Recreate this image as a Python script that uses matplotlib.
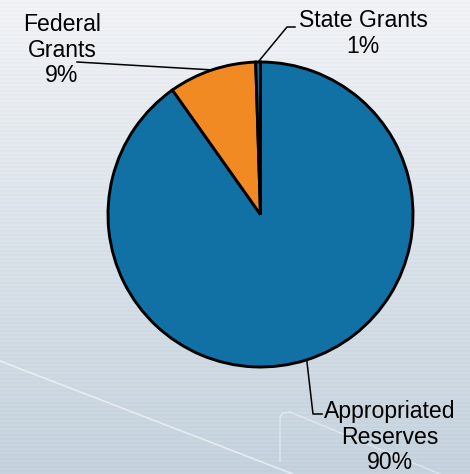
import matplotlib
matplotlib.use("Agg")
import matplotlib.pyplot as plt
import numpy as np

# slice values (percent of total)
categories = ["Appropriated Reserves", "Federal Grants", "State Grants"]
values = [90.2, 9.3, 0.5]
labels = ["Appropriated\nReserves\n90%", "Federal\nGrants\n9%", "State Grants\n1%"]
colors = ["#1271a4", "#f18a22", "#1271a4"]

W, H = 470, 474
CX, CY, R = 260.5, 214.5, 152.5


def px(x, y):
    # pixel position (from top-left) -> data coords of the pie axes
    return (x - CX) / R, (CY - y) / R


fig = plt.figure(figsize=(W / 100, H / 100), dpi=100)

# background: soft vertical gradient with faint horizontal stripes
bg = fig.add_axes([0, 0, 1, 1], zorder=0)
t = np.linspace(0, 1, H)[:, None]
top = np.array([0.937, 0.945, 0.957])
bot = np.array([0.765, 0.816, 0.859])
img = top + (bot - top) * t[..., None]
stripes = ((np.arange(H) // 2) % 2 == 0)[:, None, None] * 0.012
img = np.clip(img + stripes, 0, 1)
img = np.repeat(img, W, axis=1)
bg.imshow(img, extent=[0, W, H, 0], aspect="auto")
bg.plot([0, 293], [361, 474], color="white", lw=1.2, alpha=0.55)
bg.plot([290, 440], [412, 474], color="white", lw=1.0, alpha=0.45)
bg.plot([280, 280, 283, 290], [462, 417, 413, 412], color="white", lw=1.0, alpha=0.45)
bg.set_xlim(0, W)
bg.set_ylim(H, 0)
bg.axis("off")

ax = fig.add_axes([0, 0, 1, 1], zorder=1)
ax.patch.set_alpha(0)
wedges, _ = ax.pie(values, colors=colors, startangle=90, counterclock=False,
                   radius=1.0, wedgeprops=dict(edgecolor="black", linewidth=2.1))
ax.set_xlim(-CX / R, (W - CX) / R)
ax.set_ylim(-(H - CY) / R, CY / R)
ax.set_aspect("auto")
ax.axis("off")

font = dict(family=["Liberation Sans", "DejaVu Sans"], fontsize=16.6,
            ha="center", linespacing=1.14)


def rim(w):
    a = np.deg2rad((w.theta1 + w.theta2) / 2)
    return np.cos(a), np.sin(a)


# Appropriated Reserves
x0, y0 = rim(wedges[0])
x1, y1 = px(313, 414)
x2, y2 = px(322, 414)
ax.plot([x0, x1, x2], [y0, y1, y2], color="black", lw=1.1)
ax.text(*px(390, 400), labels[0], va="top", **font)

# Federal Grants
x0, y0 = rim(wedges[1])
x1, y1 = px(77, 62)
ax.plot([x0, x1], [y0, y1], color="black", lw=1.1)
ax.text(*px(62, 13), labels[1], va="top", **font)

# State Grants
x0, y0 = rim(wedges[2])
x1, y1 = px(287, 27)
x2, y2 = px(295, 27)
ax.plot([x0, x1, x2], [y0, y1, y2], color="black", lw=1.1)
ax.text(*px(363, 9), labels[2], va="top", **font)

fig.savefig("out.png", dpi=100)
